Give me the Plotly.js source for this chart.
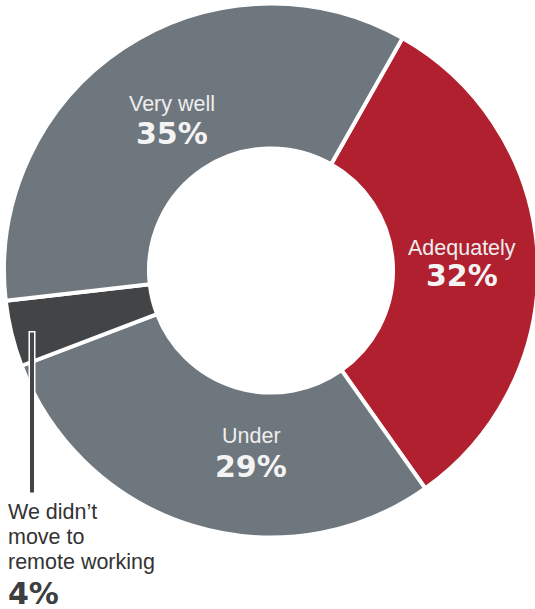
<!DOCTYPE html>
<html>
<head>
<meta charset="utf-8">
<script src="https://cdn.plot.ly/plotly-3.0.1.min.js"></script>
<style>
html,body{margin:0;padding:0;background:#fff;overflow:hidden;}
#chart{width:545px;height:609px;}
</style>
</head>
<body>
<div id="chart"></div>
<script>
// Data (clockwise from the top-right boundary)
const categories = ["Adequately", "Under", "We didn’t move to remote working", "Very well"];
const values = [32, 29, 4, 35];
const percentLabels = ["32%", "29%", "4%", "35%"];
const colors = ["#b1202f", "#6e767e", "#434446", "#6e767e"];
const outsideLabelLines = ["We didn’t", "move to", "remote working"];

const W = 545, H = 609;
const px = x => x / W;
const py = y => 1 - y / H;

const cx = 271, cy = 270.5, R = 267;

const trace = {
  type: "pie",
  values: values,
  labels: categories,
  marker: {colors: colors, line: {color: "#ffffff", width: 4}},
  sort: false,
  direction: "clockwise",
  rotation: 29.5,
  hole: 0.457,
  textinfo: "none",
  hoverinfo: "label+percent",
  showlegend: false,
  domain: {x: [px(cx - R), px(cx + R)], y: [py(cy + R), py(cy - R)]}
};

const labelFont = {family: "Liberation Sans, Arial, sans-serif", size: 21.5, color: "#eeeeee"};
const pctFont = {family: "DejaVu Sans, sans-serif", size: 30, color: "#f4f4f4", weight: "bold"};

const inside = [
  {i: 0, x: 462, yl: 248, yp: 275},
  {i: 1, x: 251, yl: 436, yp: 466},
  {i: 3, x: 172, yl: 104, yp: 133}
];

const annotations = [];
inside.forEach(p => {
  annotations.push({xref: "paper", yref: "paper", x: px(p.x), y: py(p.yl), xanchor: "center", yanchor: "middle",
    text: categories[p.i], showarrow: false, font: labelFont});
  annotations.push({xref: "paper", yref: "paper", x: px(p.x), y: py(p.yp), xanchor: "center", yanchor: "middle",
    text: "<b>" + percentLabels[p.i] + "</b>", showarrow: false, font: pctFont});
});
outsideLabelLines.forEach((t, k) => {
  annotations.push({xref: "paper", yref: "paper", x: px(6), y: py(512 + k * 25), xanchor: "left", yanchor: "middle",
    text: t, showarrow: false, font: {family: "Liberation Sans, Arial, sans-serif", size: 21.5, color: "#333333"}});
});
annotations.push({xref: "paper", yref: "paper", x: px(6), y: py(593), xanchor: "left", yanchor: "middle",
  text: "<b>" + percentLabels[2] + "</b>", showarrow: false,
  font: {family: "DejaVu Sans, sans-serif", size: 30, color: "#3d3e40", weight: "bold"}});

const shapes = [
  {type: "line", xref: "paper", yref: "paper", x0: px(32), x1: px(32), y0: py(331), y1: py(494),
   line: {color: "#ffffff", width: 7}, layer: "above"},
  {type: "line", xref: "paper", yref: "paper", x0: px(32), x1: px(32), y0: py(332.5), y1: py(492.5),
   line: {color: "#434446", width: 4}, layer: "above"}
];

const layout = {
  width: W, height: H,
  margin: {l: 0, r: 0, t: 0, b: 0, pad: 0},
  paper_bgcolor: "#ffffff",
  plot_bgcolor: "#ffffff",
  showlegend: false,
  annotations: annotations,
  shapes: shapes
};

Plotly.newPlot("chart", [trace], layout, {displayModeBar: false, staticPlot: true});
</script>
</body>
</html>
